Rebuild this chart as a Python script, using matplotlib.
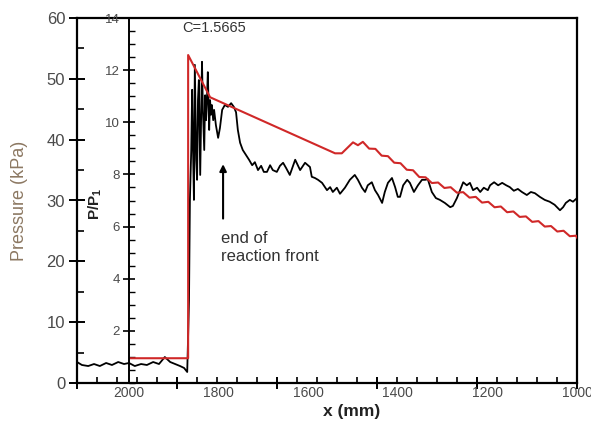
import matplotlib
matplotlib.use("Agg")
import matplotlib.pyplot as plt
from matplotlib.ticker import MultipleLocator, FixedLocator
import numpy as np

plt.rcParams['font.family'] = ['Liberation Sans', 'DejaVu Sans']
plt.rcParams['mathtext.fontset'] = 'custom'
plt.rcParams['mathtext.rm'] = 'Liberation Sans'
plt.rcParams['mathtext.bf'] = 'Liberation Sans:bold'

# experiment: pressure in kPa vs x in mm
exp_x = [2116, 2105, 2091, 2078, 2065, 2051, 2038, 2024, 2011, 2000, 1987, 1973, 1960, 1946,
         1933, 1920, 1908, 1897, 1886, 1877, 1870, 1866, 1864, 1861, 1859, 1857, 1855, 1853,
         1850, 1848, 1846, 1844, 1841, 1839, 1837, 1835, 1832, 1830, 1828, 1826, 1824, 1821,
         1819, 1817, 1815, 1812, 1810, 1806, 1801, 1797, 1792, 1786, 1779, 1772, 1766, 1761,
         1757, 1752, 1746, 1739, 1732, 1725, 1719, 1712, 1705, 1699, 1692, 1685, 1679, 1670,
         1663, 1656, 1649, 1641, 1629, 1618, 1607, 1596, 1592, 1585, 1578, 1569, 1558, 1551,
         1545, 1536, 1529, 1518, 1507, 1496, 1489, 1480, 1473, 1467, 1458, 1451, 1444, 1435,
         1429, 1422, 1413, 1406, 1400, 1395, 1388, 1379, 1373, 1364, 1355, 1346, 1339, 1333,
         1324, 1315, 1306, 1295, 1283, 1277, 1268, 1261, 1254, 1246, 1239, 1232, 1223, 1216,
         1208, 1199, 1194, 1185, 1176, 1167, 1158, 1150, 1141, 1132, 1123, 1112, 1103, 1094,
         1083, 1072, 1061, 1050, 1038, 1031, 1025, 1016, 1009, 1000]
exp_p = [3.45, 2.96, 2.79, 3.12, 2.79, 3.29, 2.96, 3.45, 3.12, 3.29, 2.79, 3.12, 2.96, 3.45,
         3.12, 4.27, 3.45, 3.12, 2.79, 2.47, 1.81, 13.6, 30.1, 38.3, 48.2, 38.3, 30.1, 52.3,
         36.7, 33.4, 46.5, 49.8, 34.2, 43.2, 52.8, 44.9, 38.3, 47.3, 43.2, 46.5, 51.1, 41.6,
         46.5, 44.1, 45.7, 43.2, 44.9, 42.4, 40.3, 41.9, 44.9, 45.7, 45.4, 46.0, 45.4, 44.5,
         41.6, 39.5, 38.3, 37.5, 36.7, 35.8, 36.3, 35.0, 35.7, 34.7, 34.7, 35.8, 35.0, 34.7,
         35.7, 36.2, 35.3, 34.2, 36.7, 35.0, 36.2, 35.5, 33.9, 33.7, 33.4, 32.9, 31.7, 32.2,
         31.4, 32.1, 31.1, 32.1, 33.4, 34.2, 33.4, 32.1, 31.4, 32.5, 33.0, 31.7, 30.9, 29.6,
         31.4, 32.9, 33.7, 32.2, 30.6, 30.6, 32.5, 33.4, 32.9, 31.4, 32.5, 33.4, 33.4, 33.5,
         31.4, 30.4, 30.1, 29.6, 28.9, 29.1, 30.4, 31.7, 33.0, 32.5, 32.9, 31.7, 32.1, 31.4,
         32.1, 31.7, 32.5, 33.0, 32.5, 32.9, 32.5, 32.2, 31.6, 31.9, 31.4, 30.9, 31.4, 31.2,
         30.6, 30.1, 29.8, 29.3, 28.4, 28.9, 29.6, 30.1, 29.8, 30.4]

# simulation: P/P1 vs x in mm
sim_x = [2000, 1868, 1868, 1819, 1540, 1525, 1500, 1489, 1478, 1464, 1450, 1436, 1422, 1408,
         1394, 1380, 1366, 1352, 1338, 1324, 1310, 1296, 1282, 1268, 1254, 1240, 1226, 1212,
         1198, 1184, 1170, 1156, 1142, 1128, 1114, 1100, 1086, 1072, 1058, 1044, 1030, 1016,
         1002, 1000]
sim_p = [0.95, 0.95, 12.58, 10.96, 8.81, 8.81, 9.23, 9.12, 9.25, 8.99, 8.98, 8.72, 8.70, 8.45,
         8.43, 8.18, 8.16, 7.90, 7.89, 7.67, 7.69, 7.48, 7.51, 7.30, 7.32, 7.11, 7.14, 6.92,
         6.95, 6.74, 6.77, 6.55, 6.58, 6.37, 6.39, 6.18, 6.21, 6.00, 6.02, 5.81, 5.84, 5.63,
         5.65, 5.58]

x_ticks = [2000, 1800, 1600, 1400, 1200, 1000]
ratio_ticks = [2, 4, 6, 8, 10, 12, 14]
grey = '#4a4a4a'

fig = plt.figure(figsize=(5.91, 4.23), dpi=100)

# outer axis (kPa)
ax = fig.add_axes([77 / 591, 40 / 423, 500 / 591, 365 / 423])
ax.set_xlim(2116, 1000)
ax.set_ylim(0, 60)
ax.plot(exp_x, exp_p, color='black', lw=1.3, zorder=3)
for s in ax.spines.values():
    s.set_linewidth(1.6)
ax.xaxis.set_major_locator(FixedLocator(np.linspace(2116, 1000, 6)))
ax.xaxis.set_minor_locator(FixedLocator(np.linspace(2116, 1000, 26)))
ax.tick_params(axis='x', which='major', direction='inout', length=8, width=1.4, labelbottom=False)
ax.tick_params(axis='x', which='minor', direction='in', length=4, width=1.2)
ax.yaxis.set_major_locator(MultipleLocator(10))
ax.yaxis.set_minor_locator(MultipleLocator(5))
ax.tick_params(axis='y', which='major', direction='inout', length=11, width=1.4,
               labelsize=12, labelcolor=grey, pad=3)
ax.tick_params(axis='y', which='minor', direction='in', length=5, width=1.2)
ax.set_ylabel('Pressure (kPa)', fontsize=13, color='#8c7862')
ax.yaxis.set_label_coords(-0.098, 0.5)
ax.set_xlabel('x (mm)', fontsize=12.5, fontweight='bold', color='#222222')
ax.xaxis.set_label_coords(0.55, -0.058)

# inner axis (P/P1)
ax2 = fig.add_axes([129 / 591, 40 / 423, 448 / 591, 365 / 423])
ax2.patch.set_visible(False)
ax2.set_xlim(2000, 1000)
ax2.set_ylim(0, 14)
ax2.plot(sim_x, sim_p, color='#d02828', lw=1.5, zorder=2)
for k in ['top', 'right', 'bottom']:
    ax2.spines[k].set_visible(False)
ax2.spines['left'].set_linewidth(1.4)
ax2.set_xticks(x_ticks)
ax2.tick_params(axis='x', length=0, pad=2, labelsize=10, labelcolor=grey)
ax2.set_yticks(ratio_ticks)
ax2.yaxis.set_minor_locator(MultipleLocator(0.5))
ax2.tick_params(axis='y', which='major', direction='inout', length=9, width=1.2,
                labelsize=9.5, labelcolor=grey, pad=2)
ax2.tick_params(axis='y', which='minor', direction='in', length=4, width=1.0)
ax2.set_ylabel(r'$\mathbf{P/P_1}$', fontsize=11, color='#222222')
ax2.yaxis.set_label_coords(-0.056, 0.49)

ax2.text(1810, 13.6, 'C=1.5665', fontsize=10.5, color='#333333', ha='center', va='center')
ax2.annotate('', xy=(1790, 8.5), xytext=(1790, 6.2),
             arrowprops=dict(arrowstyle='-|>', color='black', lw=1.5, mutation_scale=10))
ax2.text(1795, 5.2, 'end of\nreaction front', fontsize=12, color='#333333',
         ha='left', va='center', linespacing=1.3)

fig.savefig('out.png', dpi=100)
